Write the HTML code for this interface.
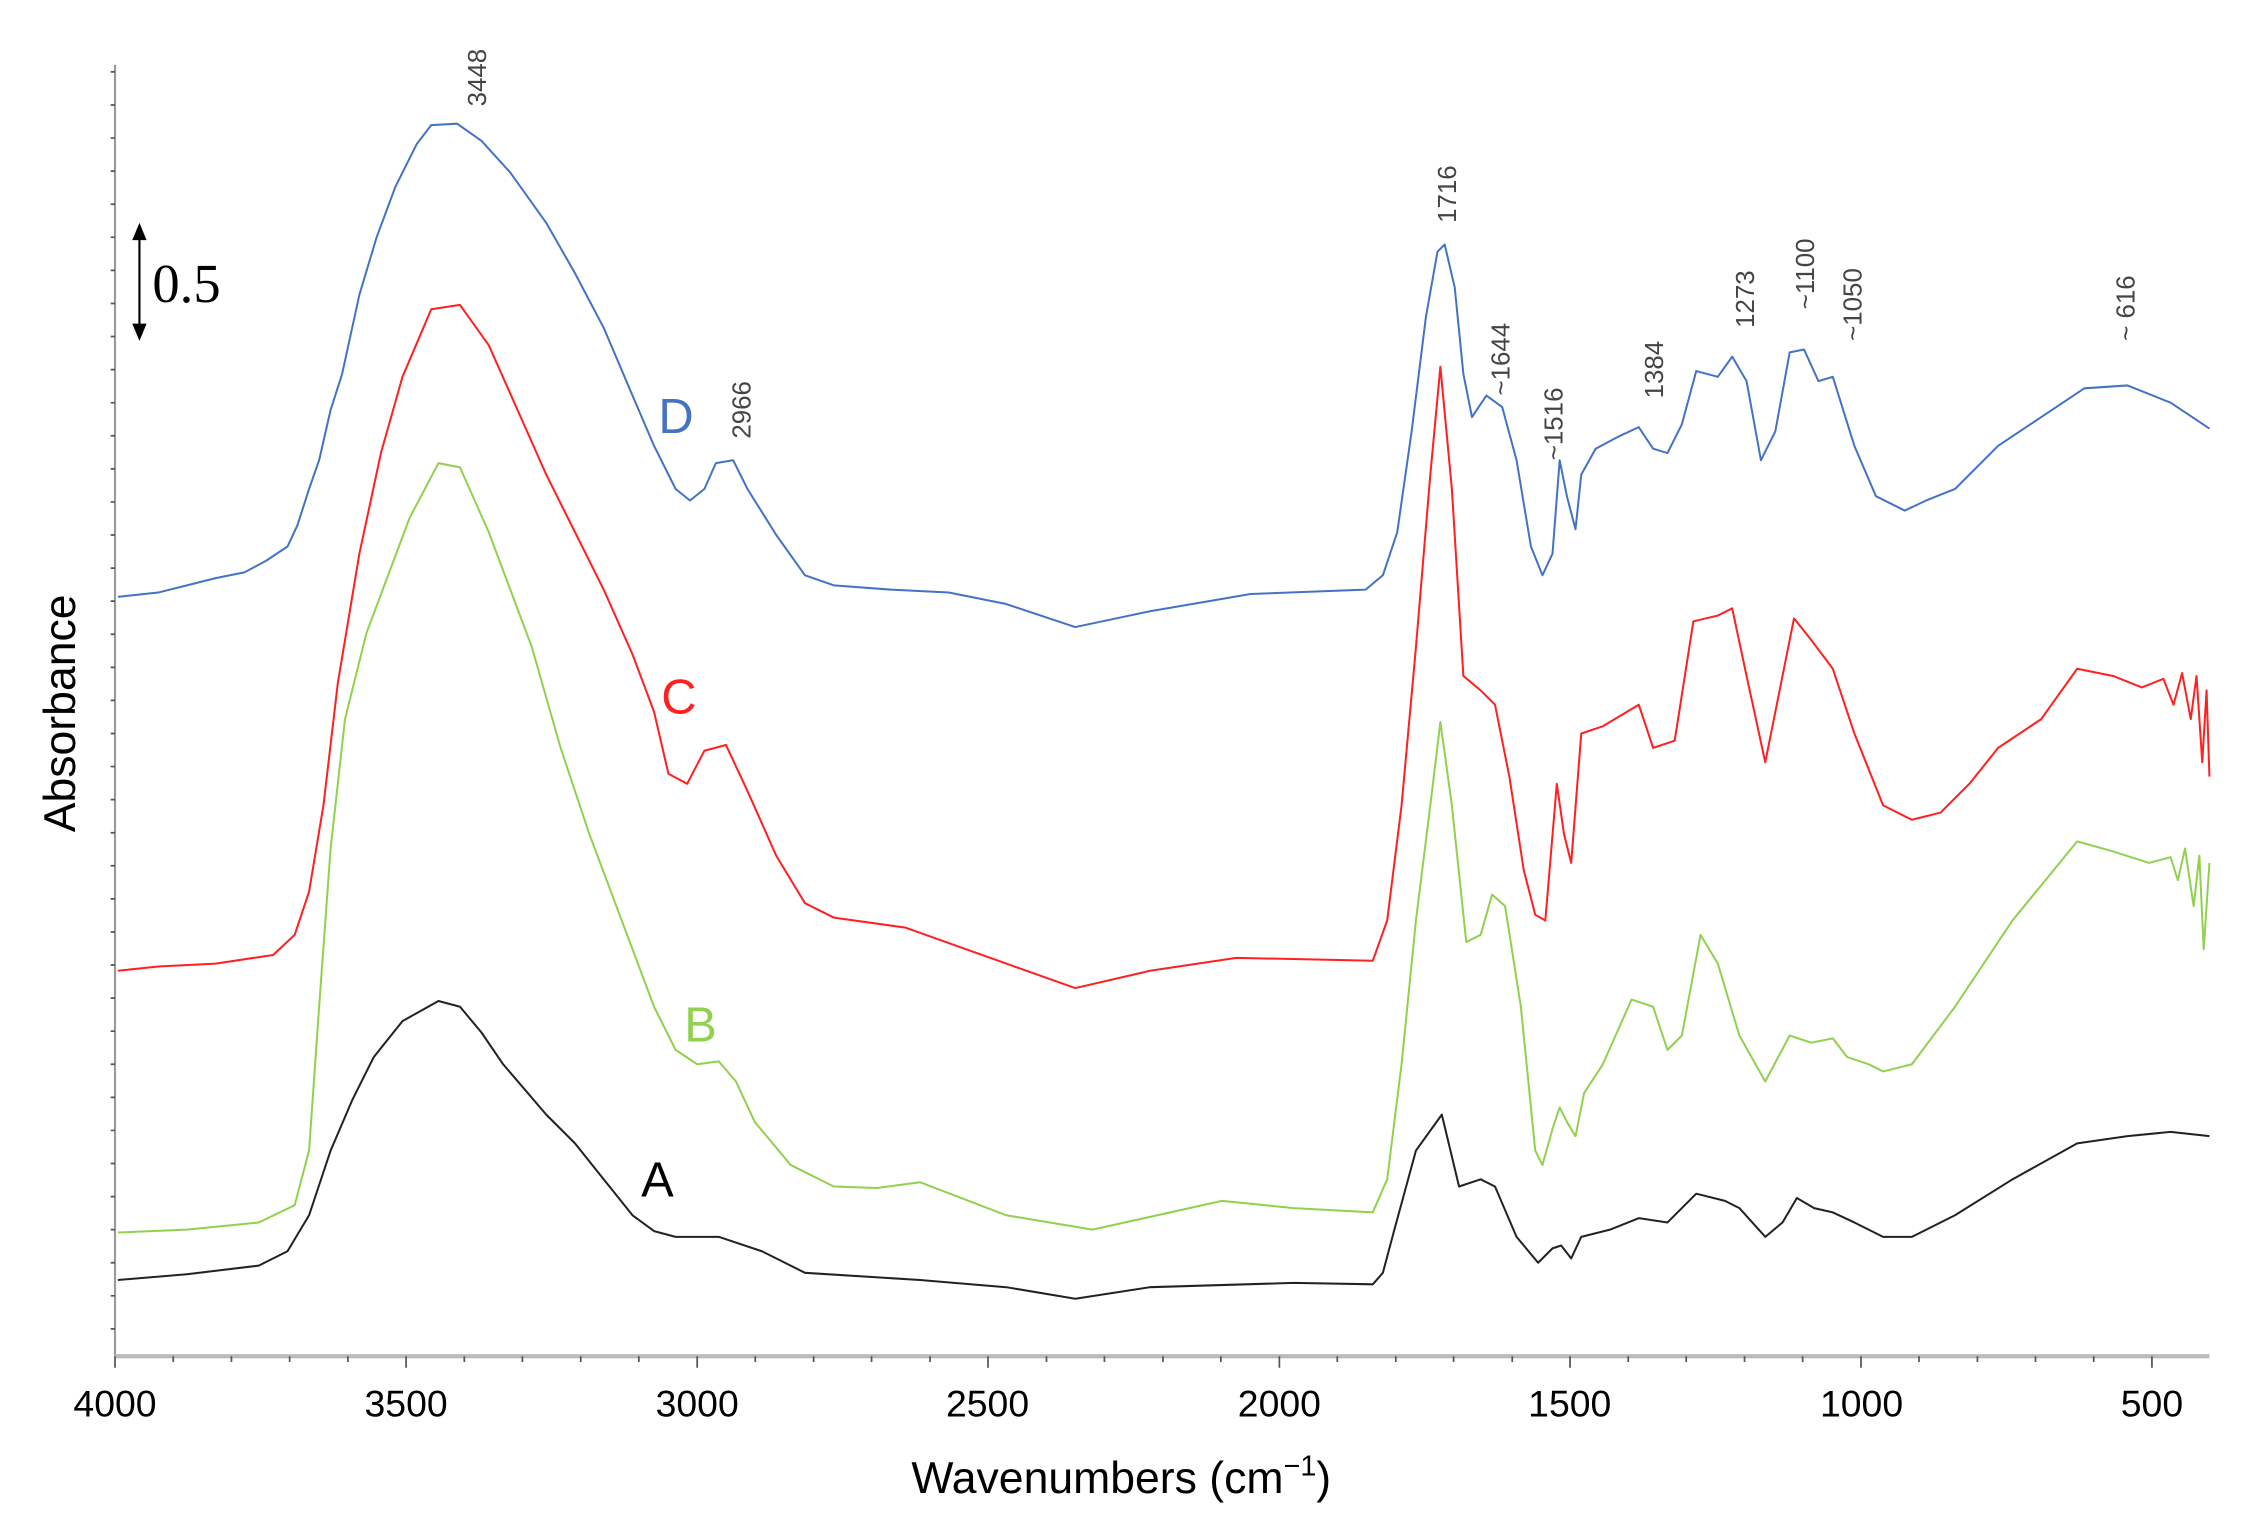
<!DOCTYPE html>
<html><head><meta charset="utf-8"><style>html,body{margin:0;padding:0;background:#fff}svg{display:block}</style></head>
<body>
<svg width="2254" height="1536" viewBox="0 0 1568 1068" preserveAspectRatio="none" xmlns="http://www.w3.org/2000/svg" font-family="Liberation Sans, sans-serif">
<rect width="1568" height="1068" fill="#fff"/>
<!-- axes -->
<line x1="80" y1="45" x2="80" y2="943" stroke="#999" stroke-width="1.5"/>
<line x1="80" y1="943" x2="1537" y2="943" stroke="#bbb" stroke-width="3"/>
<g stroke="#555" stroke-width="1.2">
<path d="M80 50h-3M80 73h-3M80 96h-3M80 119h-3M80 142h-3M80 165h-3M80 188h-3M80 211h-3M80 234h-3M80 257h-3M80 280h-3M80 303h-3M80 326h-3M80 349h-3M80 372h-3M80 395h-3M80 418h-3M80 441h-3M80 464h-3M80 487h-3M80 510h-3M80 533h-3M80 556h-3M80 579h-3M80 602h-3M80 625h-3M80 648h-3M80 671h-3M80 694h-3M80 717h-3M80 740h-3M80 763h-3M80 786h-3M80 809h-3M80 832h-3M80 855h-3M80 878h-3M80 901h-3M80 924h-3"/>
<path d="M80 943v8M120.5 943v4M161 943v4M201.5 943v4M242 943v4M282.5 943v8M323 943v4M363.4 943v4M404 943v4M444.4 943v4M485 943v8M525.4 943v4M566 943v4M606.3 943v4M647 943v4M687.3 943v8M728 943v4M768.3 943v4M809 943v4M849.3 943v4M890 943v8M930.3 943v4M971 943v4M1011.2 943v4M1052 943v4M1092.2 943v8M1132.7 943v4M1173 943v4M1213.6 943v4M1254 943v4M1294.6 943v8M1335 943v4M1375.6 943v4M1416 943v4M1456.5 943v4M1497 943v8"/>
</g>
<g font-size="26" text-anchor="middle" fill="#000">
<text x="80" y="985">4000</text><text x="282.5" y="985">3500</text><text x="485" y="985">3000</text><text x="687" y="985">2500</text><text x="890" y="985">2000</text><text x="1092" y="985">1500</text><text x="1295" y="985">1000</text><text x="1497" y="985">500</text>
</g>
<text x="780" y="1038" font-size="31" text-anchor="middle">Wavenumbers (cm<tspan font-size="20" dy="-12">−1</tspan><tspan dy="12">)</tspan></text>
<text transform="translate(52,496) rotate(-90)" font-size="31" text-anchor="middle">Absorbance</text>
<!-- scale arrow -->
<line x1="97" y1="165" x2="97" y2="227" stroke="#000" stroke-width="1.5"/>
<path d="M92 167L97 155L102 167Z M92 225L97 237L102 225Z" fill="#000"/>
<text x="106" y="210" font-family="Liberation Serif, serif" font-size="38">0.5</text>
<!-- curves -->
<g fill="none" stroke-width="1.4" stroke-linejoin="round">
<polyline stroke="#4472c4" points="82,415 110,412 130,407 150,402 170,398 185,390 200,380 207,365 215,340 222,320 230,285 238,260 250,205 262,165 275,130 290,100 300,87 318,86 335,98 355,120 380,155 400,190 420,228 440,275 455,310 470,340 480,348 490,340 498,322 510,320 520,340 540,372 560,400 580,407 620,410 660,412 700,420 748,436 800,425 870,413 950,410 962,400 972,370 982,300 992,220 1000,175 1005,170 1012,200 1018,260 1024,290 1034,275 1045,283 1055,320 1065,380 1073,400 1080,385 1085,320 1090,345 1096,368 1100,330 1110,312 1125,304 1140,297 1150,312 1160,315 1170,295 1180,258 1195,262 1205,248 1215,265 1225,320 1235,300 1245,245 1255,243 1265,265 1275,262 1290,310 1305,345 1325,355 1340,348 1360,340 1390,310 1420,290 1450,270 1480,268 1510,280 1537,298"/>
<polyline stroke="#ff2020" points="82,675 110,672 150,670 190,664 205,650 215,620 225,560 235,475 250,385 265,315 280,262 300,215 320,212 340,240 360,285 380,330 400,370 420,410 440,455 455,495 465,538 478,545 490,522 505,518 520,550 540,595 560,628 580,638 630,645 700,670 748,687 800,675 860,666 955,668 965,640 975,560 985,450 995,330 1002,255 1010,340 1018,470 1030,480 1040,490 1050,540 1060,605 1068,636 1075,640 1083,545 1088,580 1093,600 1100,510 1115,505 1140,490 1150,520 1165,515 1178,432 1195,428 1205,423 1215,470 1228,530 1240,470 1248,430 1260,445 1275,465 1290,510 1310,560 1330,570 1350,565 1370,545 1390,520 1420,500 1445,465 1470,470 1490,478 1505,472 1512,490 1518,468 1524,500 1528,470 1532,530 1535,480 1537,540"/>
<polyline stroke="#92d050" points="82,857 130,855 180,850 205,838 215,800 222,700 230,590 240,500 255,440 270,400 285,360 305,322 320,325 340,370 355,410 370,450 390,520 410,580 425,620 440,660 455,700 470,730 485,740 500,738 512,752 525,780 550,810 580,825 610,826 640,822 700,845 760,855 850,835 900,840 955,843 965,820 975,740 985,640 995,560 1002,502 1010,560 1020,655 1030,650 1038,622 1047,630 1058,700 1068,800 1073,810 1080,785 1085,770 1090,780 1096,790 1102,760 1115,740 1135,695 1150,700 1160,730 1170,720 1183,650 1195,670 1210,720 1228,752 1245,720 1260,725 1275,722 1285,735 1300,740 1310,745 1330,740 1360,700 1400,640 1445,585 1470,592 1495,600 1510,596 1515,612 1520,590 1526,630 1530,595 1533,660 1537,600"/>
<polyline stroke="#222" points="82,890 130,886 180,880 200,870 215,845 230,800 245,765 260,735 280,710 305,696 320,700 335,718 350,740 380,775 400,795 420,820 440,845 455,856 470,860 500,860 530,870 560,885 640,890 700,895 748,903 800,895 900,892 955,893 962,885 970,855 985,800 1003,775 1015,825 1030,820 1040,825 1055,860 1070,878 1080,868 1086,866 1093,875 1100,860 1120,855 1140,847 1160,850 1180,830 1200,835 1210,840 1228,860 1240,850 1250,833 1262,840 1275,843 1290,850 1310,860 1330,860 1360,845 1400,820 1445,795 1480,790 1510,787 1537,790"/>
</g>
<!-- series labels -->
<g font-size="34">
<text x="458" y="301" fill="#4472c4">D</text>
<text x="460" y="496" fill="#ff2020">C</text>
<text x="476" y="724" fill="#92d050">B</text>
<text x="446" y="832" fill="#000">A</text>
</g>
<!-- peak labels -->
<g font-size="18" fill="#444">
<text transform="translate(338,74) rotate(-90)">3448</text>
<text transform="translate(522,305) rotate(-90)">2966</text>
<text transform="translate(1013,155) rotate(-90)">1716</text>
<text transform="translate(1050,275) rotate(-90)">~1644</text>
<text transform="translate(1087,320) rotate(-90)">~1516</text>
<text transform="translate(1157,277) rotate(-90)">1384</text>
<text transform="translate(1220,228) rotate(-90)">1273</text>
<text transform="translate(1262,215) rotate(-90)">~1100</text>
<text transform="translate(1295,237) rotate(-90)">~1050</text>
<text transform="translate(1485,237) rotate(-90)">~ 616</text>
</g>
</svg>
</body></html>
